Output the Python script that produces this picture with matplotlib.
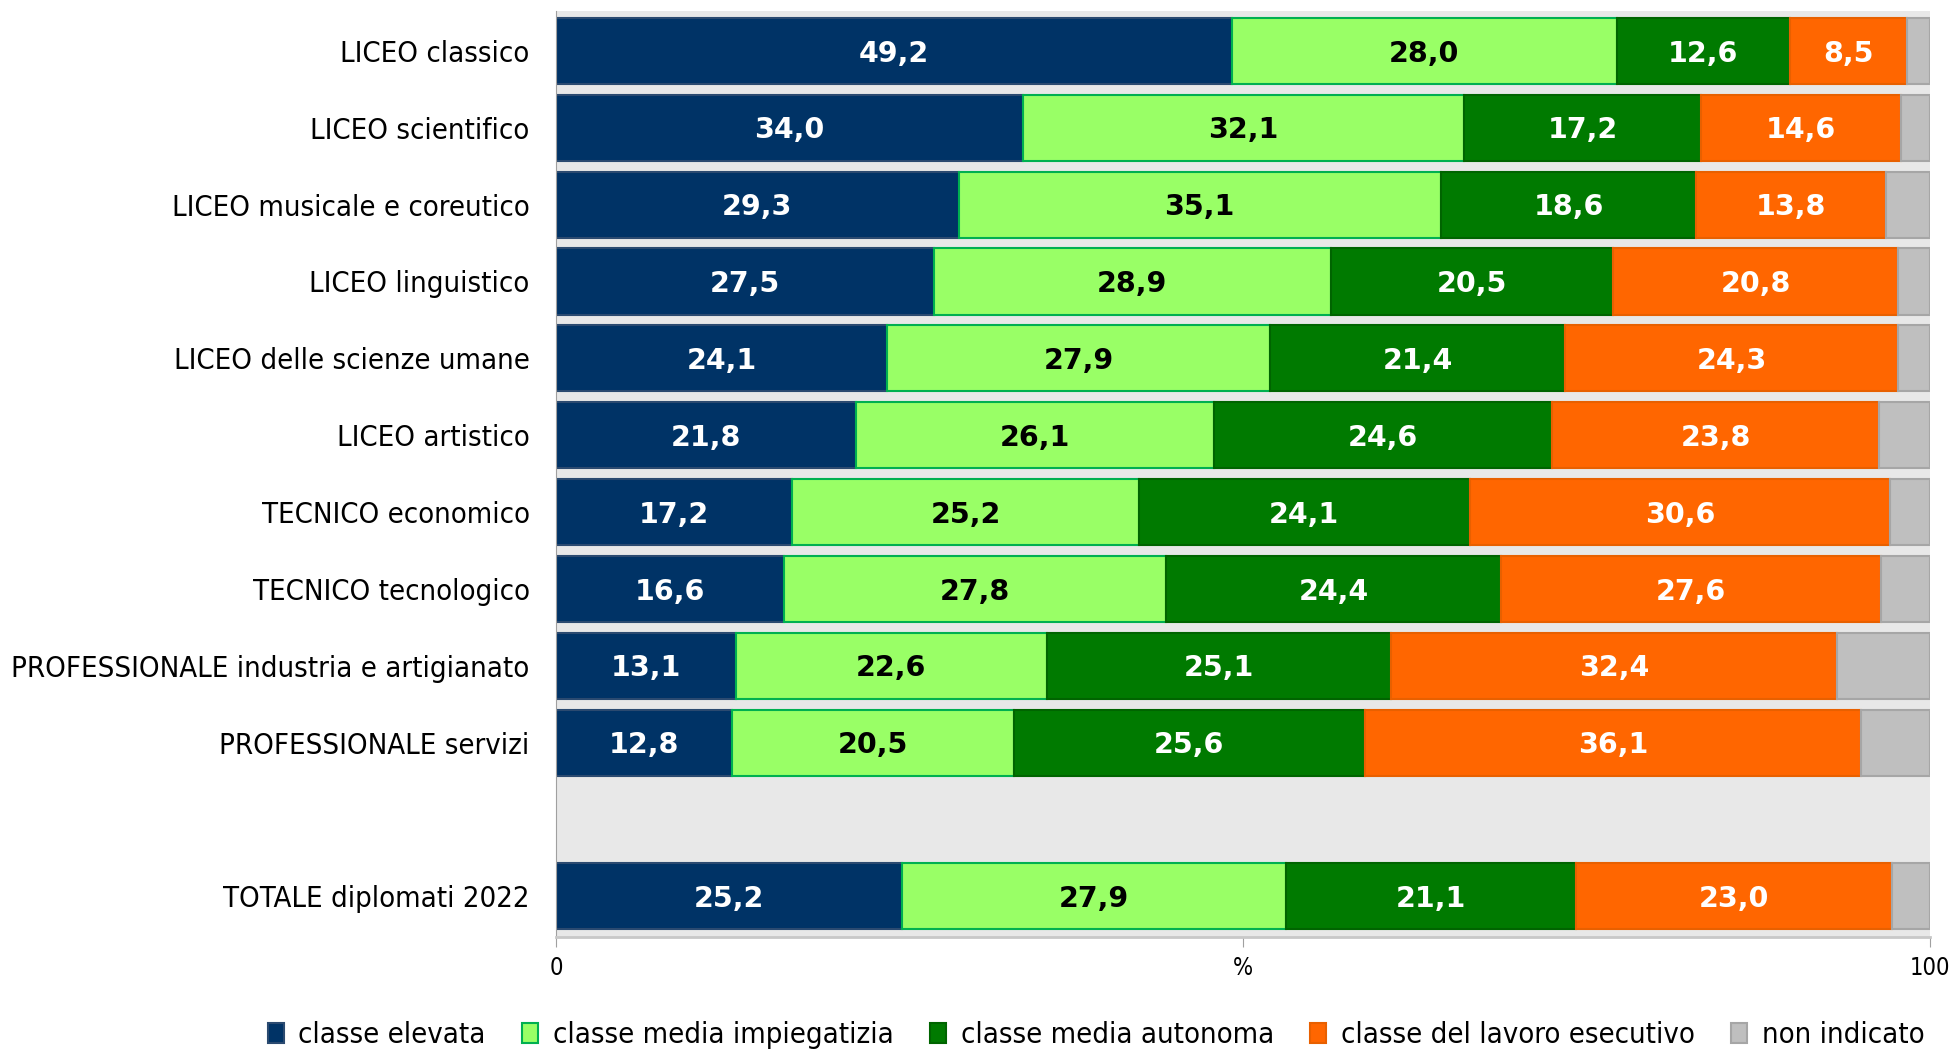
import matplotlib
matplotlib.use("Agg")
import matplotlib.pyplot as plt
from matplotlib.patches import Patch

categories = [
    "LICEO classico",
    "LICEO scientifico",
    "LICEO musicale e coreutico",
    "LICEO linguistico",
    "LICEO delle scienze umane",
    "LICEO artistico",
    "TECNICO economico",
    "TECNICO tecnologico",
    "PROFESSIONALE industria e artigianato",
    "PROFESSIONALE servizi",
    "TOTALE diplomati 2022",
]
series_names = [
    "classe elevata",
    "classe media impiegatizia",
    "classe media autonoma",
    "classe del lavoro esecutivo",
    "non indicato",
]
elevata = [49.2, 34.0, 29.3, 27.5, 24.1, 21.8, 17.2, 16.6, 13.1, 12.8, 25.2]
impiegatizia = [28.0, 32.1, 35.1, 28.9, 27.9, 26.1, 25.2, 27.8, 22.6, 20.5, 27.9]
autonoma = [12.6, 17.2, 18.6, 20.5, 21.4, 24.6, 24.1, 24.4, 25.1, 25.6, 21.1]
esecutivo = [8.5, 14.6, 13.8, 20.8, 24.3, 23.8, 30.6, 27.6, 32.4, 36.1, 23.0]
non_indicato = [1.7, 2.1, 3.2, 2.3, 2.3, 3.7, 2.9, 3.6, 6.8, 5.0, 2.8]
xtick_values = [0, 50, 100]
xtick_labels = ["0", "%", "100"]

series = [elevata, impiegatizia, autonoma, esecutivo, non_indicato]
facecolors = ["#003366", "#99ff66", "#007a00", "#ff6600", "#bfbfbf"]
edgecolors = ["#2b4a70", "#00b050", "#006400", "#e86000", "#a6a6a6"]
textcolors = ["white", "black", "white", "white", None]

plt.rcParams["font.family"] = ["DejaVu Sans"]
plt.rcParams["font.stretch"] = "condensed"

fig = plt.figure(figsize=(19.54, 10.51), dpi=100)
W, H = 1954, 1051
ax = fig.add_axes([556 / W, 1 - 937 / H, (1930 - 556) / W, (937 - 11) / H])
ax.set_facecolor("#e8e8e8")

# positions: one empty slot before the total
ypos = list(range(10)) + [11]

left = [0.0] * len(categories)
for vals, fc, ec, tc in zip(series, facecolors, edgecolors, textcolors):
    ax.barh(ypos, vals, left=left, height=0.86, color=fc,
            edgecolor=ec, linewidth=1.5)
    if tc is not None:
        for y, l, v in zip(ypos, left, vals):
            ax.text(l + v / 2, y + 0.035, f"{v:.1f}".replace(".", ","),
                    ha="center", va="center", color=tc, fontsize=20.5,
                    fontweight="bold", fontstretch="normal")
    left = [a + b for a, b in zip(left, vals)]

ax.set_xlim(0, 100)
ax.set_ylim(11.53, -0.52)
ax.set_yticks(ypos)
ax.set_yticklabels(categories, fontsize=21)
ax.tick_params(axis="y", length=0, pad=19)
ax.set_xticks(xtick_values)
ax.set_xticklabels(xtick_labels, fontsize=17)
ax.tick_params(axis="x", length=7, color="#a0a0a0", pad=7)

for s in ["top", "right"]:
    ax.spines[s].set_visible(False)
ax.spines["left"].set_color("#a0a0a0")
ax.spines["bottom"].set_color("#c8c8c8")
ax.spines["bottom"].set_linewidth(2)

handles = [Patch(facecolor=fc, edgecolor=ec, linewidth=1.5)
           for fc, ec in zip(facecolors, edgecolors)]
fig.legend(handles, series_names, loc="center",
           bbox_to_anchor=(0.561, 1 - 1035 / H), ncol=5, frameon=False,
           fontsize=21, handlelength=0.55, handleheight=0.7,
           handletextpad=0.5, columnspacing=1.25)

fig.savefig("out.png", dpi=100)
